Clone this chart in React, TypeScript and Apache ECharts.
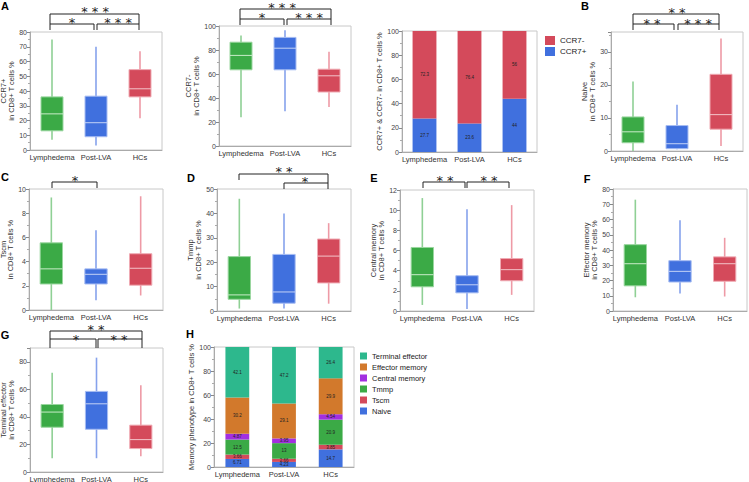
import React, { useEffect, useRef } from 'react';
import * as echarts from 'echarts';

const categories = ['Lymphedema', 'Post-LVA', 'HCs'];
// box values: [min, Q1, median, Q3, max]
const ccr7PosBox = [[7, 13, 24.5, 36, 75], [3, 9, 18.5, 36.5, 70], [21.5, 36, 41.5, 54.5, 67]];
const ccr7NegBox = [[24, 63.5, 75.5, 86.5, 92], [29, 63.5, 81.5, 90.5, 96.5], [32.5, 45, 58.5, 64, 78.5]];
const naiveBox = [[0, 2.5, 5.8, 10.3, 21], [0.5, 0.7, 2.2, 7.7, 14], [1.5, 6.6, 11, 23.2, 34]];
const tscmBox = [[0, 2.15, 3.4, 5.55, 9.3], [0.8, 2.15, 2.95, 3.4, 6.6], [1.2, 2.05, 3.45, 4.65, 9.4]];
const tmmpBox = [[1, 4.8, 6.6, 22.3, 46], [1, 3.2, 7.8, 23.2, 40], [3, 11.5, 22.5, 29.5, 36]];
const cmBox = [[0.6, 2.4, 3.6, 6.3, 11.2], [0.2, 1.8, 2.6, 3.5, 10.1], [1.6, 3.0, 4.1, 5.2, 10.5]];
const emBox = [[9, 16.5, 31, 43.5, 73], [11.5, 19, 26, 33, 59.5], [9.5, 19.5, 31, 35.5, 48]];
const teBox = [[10, 32.5, 43.5, 49, 72], [10, 31, 49.5, 58.5, 83], [11.5, 17, 23.5, 34, 63]];

const ccr7PosShare = [27.7, 23.6, 44];
const ccr7NegShare = [72.3, 76.4, 56];

const phenoNaive = [6.71, 4.23, 14.7];
const phenoTscm = [3.66, 2.66, 3.85];
const phenoTmmp = [12.5, 13, 20.9];
const phenoCM = [4.87, 3.95, 4.54];
const phenoEM = [30.2, 29.1, 29.9];
const phenoTE = [42.1, 47.2, 26.4];

const FONT = "'Liberation Sans Narrow', 'Liberation Sans', Arial, sans-serif";
const STAR_FONT = "'DejaVu Sans', sans-serif";

const boxColors = [
  { fill: '#3BAA46', edge: '#9ad69f', whisker: '#8fd095', median: '#c9ecc9' },
  { fill: '#4070DE', edge: '#a6bcf2', whisker: '#86a2ec', median: '#c3d2f6' },
  { fill: '#D44A5B', edge: '#efaab3', whisker: '#ee9aa6', median: '#f3c4ca' },
];

const boxPanels = [
  { data: ccr7PosBox, name: 'CCR7+\nin CD8+ T cells %', grid: { left: 30, top: 32, width: 132, height: 118 }, max: 80, interval: 10, gap: 11.5, lh: 7.5, hideMax: false },
  { data: ccr7NegBox, name: 'CCR7-\nin CD8+ T cells %', grid: { left: 219, top: 26, width: 132, height: 120 }, max: 100, interval: 20, gap: 13.5, lh: 7.5, hideMax: false },
  { data: naiveBox, name: 'Naive\nin CD8+ T cells %', grid: { left: 611, top: 32, width: 132, height: 119 }, max: 36, interval: 10, gap: 10.5, lh: 7.5, hideMax: true },
  { data: tscmBox, name: 'Tscm\nin CD8+ T cells %', grid: { left: 29, top: 189, width: 134, height: 121 }, max: 10, interval: 2, gap: 7, lh: 7, hideMax: false },
  { data: tmmpBox, name: 'Tmmp\nin CD8+ T cells %', grid: { left: 217, top: 189, width: 134, height: 122 }, max: 50, interval: 10, gap: 8.5, lh: 7.5, hideMax: false },
  { data: cmBox, name: 'Central memory\nin CD8+ T cells %', grid: { left: 400, top: 190, width: 134, height: 121 }, max: 12, interval: 2, gap: 10.5, lh: 7.5, hideMax: false },
  { data: emBox, name: 'Effector memory\nin CD8+ T cells %', grid: { left: 613, top: 189, width: 134, height: 122 }, max: 80, interval: 10, gap: 11.5, lh: 7.5, hideMax: false },
  { data: teBox, name: 'Terminal effector\nin CD8+ T cells %', grid: { left: 30, top: 348, width: 133, height: 124 }, max: 90, interval: 20, gap: 11.5, lh: 7.5, hideMax: true },
];

const stackGrids = [
  { left: 402, top: 31, width: 135, height: 121 },
  { left: 214, top: 347, width: 140, height: 120 },
];

const renderBox = (params: any, api: any) => {
  const i = api.value(0);
  const c = boxColors[i];
  const w = api.size([1, 0])[0] * 0.5;
  const pMin = api.coord([i, api.value(1)]);
  const pQ1 = api.coord([i, api.value(2)]);
  const pMed = api.coord([i, api.value(3)]);
  const pQ3 = api.coord([i, api.value(4)]);
  const pMax = api.coord([i, api.value(5)]);
  const x = pMed[0];
  return {
    type: 'group',
    children: [
      { type: 'line', shape: { x1: x, y1: pMin[1], x2: x, y2: pMax[1] }, style: { stroke: c.whisker, lineWidth: 1.6 } },
      { type: 'rect', shape: { x: x - w / 2, y: pQ3[1], width: w, height: pQ1[1] - pQ3[1] }, style: { fill: c.fill, stroke: c.edge, lineWidth: 1 } },
      { type: 'line', shape: { x1: x - w / 2, y1: pMed[1], x2: x + w / 2, y2: pMed[1] }, style: { stroke: c.median, lineWidth: 1 } },
    ],
  };
};

const yAx = (gridIndex: number, max: number, interval: number, name: string, nameGap: number, hideMax: boolean, lh: number) => ({
  type: 'value',
  gridIndex,
  min: 0,
  max,
  interval,
  name,
  nameLocation: 'middle',
  nameGap,
  nameRotate: 90,
  nameTextStyle: { fontSize: 7.5, color: '#333', lineHeight: lh, fontFamily: FONT },
  axisLine: { show: true, lineStyle: { color: '#aaa', width: 1 } },
  axisTick: { show: true, length: 3, lineStyle: { color: '#888' } },
  minorTick: { show: true, splitNumber: 2, length: 2, lineStyle: { color: '#aaa' } },
  axisLabel: { fontSize: 7, color: '#444', margin: 3, fontFamily: FONT, showMaxLabel: hideMax ? false : null },
  splitLine: { show: false },
});

const xAx = (gridIndex: number) => ({
  type: 'category',
  gridIndex,
  data: categories,
  axisLine: { show: true, lineStyle: { color: '#aaa', width: 1 } },
  axisTick: { show: false },
  axisLabel: { fontSize: 7.5, color: '#333', margin: 3, interval: 0, fontFamily: FONT },
});

const star = (text: string, x: number, y: number) => ({
  type: 'text',
  x,
  y: y + 3,
  style: { text, fontSize: 13, lineHeight: 8, fontFamily: STAR_FONT, fill: '#222', align: 'center', verticalAlign: 'middle' },
});

const bracket = (pts: number[][]) => ({
  type: 'polyline',
  shape: { points: pts },
  style: { stroke: '#222', lineWidth: 1, fill: null },
});

const letter = (text: string, x: number, y: number) => ({
  type: 'text',
  x,
  y,
  style: { text, fontSize: 11, fontWeight: 'bold', fontFamily: "'Liberation Sans', Arial, sans-serif", fill: '#000', align: 'center', verticalAlign: 'middle' },
});

const graphics = [
  letter('A', 5, 6), letter('B', 585, 6), letter('C', 5, 177), letter('D', 191, 178),
  letter('E', 374, 178), letter('F', 587, 179), letter('G', 5, 335), letter('H', 190, 334),
  // A
  bracket([[50, 24], [50, 14], [139, 14], [139, 24]]), star('* * *', 95, 8),
  bracket([[50, 30], [50, 24], [94, 24], [94, 30]]), star('*', 72, 19),
  bracket([[97, 30], [97, 24], [139, 24], [139, 30]]), star('* * *', 118, 19),
  // CCR7-
  bracket([[240, 19], [240, 9], [331, 9], [331, 19]]), star('* * *', 282, 4),
  bracket([[240, 25], [240, 19], [284, 19], [284, 25]]), star('*', 262, 14),
  bracket([[287, 25], [287, 19], [331, 19], [331, 25]]), star('* * *', 309, 14),
  // B
  bracket([[633, 24], [633, 14], [719, 14], [719, 24]]), star('* *', 677, 9),
  bracket([[633, 30], [633, 24], [674, 24], [674, 30]]), star('* *', 652, 20),
  bracket([[678, 30], [678, 24], [719, 24], [719, 30]]), star('* * *', 698, 20),
  // C
  bracket([[52, 188], [52, 182], [97, 182], [97, 188]]), star('*', 75, 177),
  // D
  bracket([[239, 180], [239, 174], [328, 174], [328, 183]]), star('* *', 284, 168),
  bracket([[284, 189], [284, 183], [328, 183], [328, 189]]), star('*', 305, 178),
  // E
  bracket([[423, 188], [423, 182], [465, 182], [465, 188]]), star('* *', 445, 177),
  bracket([[467, 188], [467, 182], [509, 182], [509, 188]]), star('* *', 489, 177),
  // G
  bracket([[50, 339], [50, 331], [142, 331], [142, 339]]), star('* *', 96, 326),
  bracket([[50, 348], [50, 339], [96, 339], [96, 348]]), star('*', 76, 336),
  bracket([[98, 348], [98, 339], [142, 339], [142, 348]]), star('* *', 119, 336),
];

const tinyLabel = { show: true, position: 'inside', fontSize: 4.5, color: '#222', fontFamily: FONT };

const buildOption = () => {
  const grid: any[] = [];
  const xAxis: any[] = [];
  const yAxis: any[] = [];
  const series: any[] = [];
  boxPanels.forEach((p, i) => {
    grid.push({ ...p.grid, show: true, borderColor: '#c8c8c8', borderWidth: 1, containLabel: false, outerBoundsMode: 'none' });
    xAxis.push(xAx(i));
    yAxis.push(yAx(i, p.max, p.interval, p.name, p.gap, p.hideMax, p.lh));
    series.push({
      type: 'custom',
      xAxisIndex: i,
      yAxisIndex: i,
      renderItem: renderBox,
      encode: { x: 0, y: [1, 2, 3, 4, 5] },
      data: p.data.map((d, k) => [k, ...d]),
      clip: false,
    });
  });
  const gi = boxPanels.length;
  stackGrids.forEach((g) => {
    grid.push({ ...g, show: true, borderColor: '#c8c8c8', borderWidth: 1, containLabel: false, outerBoundsMode: 'none' });
  });
  xAxis.push(xAx(gi), xAx(gi + 1));
  yAxis.push(yAx(gi, 100, 20, 'CCR7+ & CCR7- in CD8+ T cells %', 18, false, 7.5));
  yAxis.push(yAx(gi + 1, 100, 20, 'Memory phenotype in CD8+ T cells %', 15, false, 7.5));

  const bar = (name: string, data: number[], color: string, idx: number, stack: string, width: string) => ({
    type: 'bar', name, data, stack, xAxisIndex: idx, yAxisIndex: idx, barWidth: width,
    itemStyle: { color }, label: tinyLabel,
  });
  series.push(bar('CCR7+', ccr7PosShare, '#4070DE', gi, 'ccr7', '53%'));
  series.push(bar('CCR7-', ccr7NegShare, '#D44A5B', gi, 'ccr7', '53%'));
  series.push(bar('Naive', phenoNaive, '#4070DE', gi + 1, 'pheno', '51%'));
  series.push(bar('Tscm', phenoTscm, '#D44A5B', gi + 1, 'pheno', '51%'));
  series.push(bar('Tmmp', phenoTmmp, '#3BAA46', gi + 1, 'pheno', '51%'));
  series.push(bar('Central memory', phenoCM, '#A22FE0', gi + 1, 'pheno', '51%'));
  series.push(bar('Effector memory', phenoEM, '#D2792C', gi + 1, 'pheno', '51%'));
  series.push(bar('Terminal effector', phenoTE, '#2DB88D', gi + 1, 'pheno', '51%'));

  return {
    animation: false,
    backgroundColor: '#fff',
    grid,
    xAxis,
    yAxis,
    series,
    legend: [
      {
        data: ['CCR7-', 'CCR7+'], orient: 'vertical', left: 540, top: 31, itemWidth: 10, itemHeight: 9, itemGap: 2,
        icon: 'rect', textStyle: { fontSize: 8, color: '#222', fontFamily: FONT }, selectedMode: false,
      },
      {
        data: ['Terminal effector', 'Effector memory', 'Central memory', 'Tmmp', 'Tscm', 'Naive'], orient: 'vertical',
        left: 355, top: 347, itemWidth: 7, itemHeight: 7, itemGap: 3, icon: 'rect',
        textStyle: { fontSize: 7.5, color: '#222', fontFamily: FONT }, selectedMode: false,
      },
    ],
    graphic: graphics,
  };
};

export default function App() {
  const ref = useRef<HTMLDivElement>(null);
  useEffect(() => {
    if (!ref.current) return;
    const chart = echarts.init(ref.current, undefined, { renderer: 'svg' });
    chart.setOption(buildOption() as any);
    return () => chart.dispose();
  }, []);
  return (
    <div
      ref={ref}
      style={{ position: 'fixed', left: 0, top: 0, width: 749, height: 482, background: '#fff' }}
    />
  );
}
